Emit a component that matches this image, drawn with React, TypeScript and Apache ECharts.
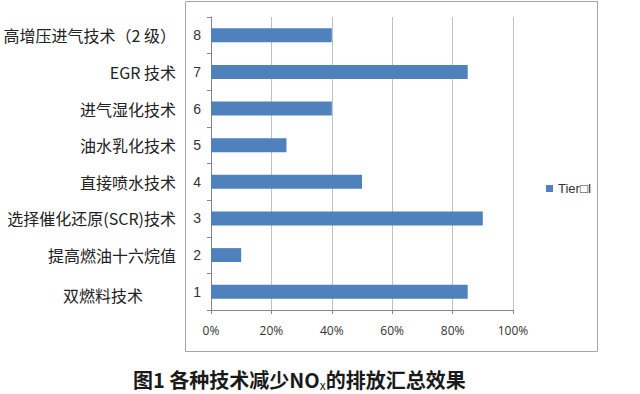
import React, { useEffect, useRef } from "react";
import * as echarts from "echarts";

const numLabels = ["1", "2", "3", "4", "5", "6", "7", "8"];
const techNames = [
  "双燃料技术",
  "提高燃油十六烷值",
  "选择催化还原(SCR)技术",
  "直接喷水技术",
  "油水乳化技术",
  "进气湿化技术",
  "EGR 技术",
  "高增压进气技术（2 级）",
];
const tierValues = [0.85, 0.1, 0.9, 0.5, 0.25, 0.4, 0.85, 0.4];
const seriesName = "Tier□I";
const xTicks = { min: 0, max: 1, interval: 0.2 };

export default function App() {
  const ref = useRef<HTMLDivElement>(null);
  useEffect(() => {
    document.body.style.margin = "0";
    const chart = echarts.init(ref.current!, null, { renderer: "svg" });
    chart.setOption({
      animation: false,
      backgroundColor: "#ffffff",
      grid: { left: 211, right: 127, top: 17, bottom: 84, containLabel: false },
      title: {
        text: "图1 各种技术减少NO{sub|x}的排放汇总效果",
        left: 128,
        top: 364,
        textStyle: {
          fontFamily: "Noto Sans CJK SC",
          fontWeight: "bold",
          fontSize: 20,
          color: "#1a1a1a",
          rich: {
            sub: {
              fontFamily: "Noto Sans CJK SC",
              fontSize: 12,
              fontWeight: "normal",
              color: "#1a1a1a",
              verticalAlign: "bottom",
              padding: [9, 0, 0, 0],
            },
          },
        },
      },
      legend: {
        left: 541,
        top: 177,
        icon: "rect",
        itemWidth: 7,
        itemHeight: 7,
        itemGap: 4,
        textStyle: { fontFamily: "Liberation Sans", fontSize: 13, color: "#333" },
        data: [seriesName],
      },
      xAxis: {
        type: "value",
        min: xTicks.min,
        max: xTicks.max,
        interval: xTicks.interval,
        axisLine: { show: true, lineStyle: { color: "#868686" } },
        axisTick: { show: true, length: 4, lineStyle: { color: "#868686" } },
        splitLine: { show: true, lineStyle: { color: "#c0c0c0", width: 1 } },
        axisLabel: {
          margin: 14,
          fontFamily: "Open Sans",
          fontSize: 12,
          color: "#333",
          formatter: (v: number) => Math.round(v * 100) + "%",
        },
      },
      yAxis: [
        {
          type: "category",
          data: numLabels,
          position: "left",
          axisLine: { show: true, lineStyle: { color: "#868686" } },
          axisTick: { show: true, length: 4, lineStyle: { color: "#868686" } },
          axisLabel: {
            margin: 10,
            fontFamily: "Liberation Sans",
            fontSize: 14,
            color: "#333",
          },
        },
        {
          type: "category",
          data: techNames,
          position: "left",
          axisLine: { show: false },
          axisTick: { show: false },
          splitLine: { show: false },
          axisLabel: {
            margin: 35,
            fontFamily: "Noto Sans CJK SC",
            fontSize: 16,
            color: "#222",
            formatter: (v: string) =>
              v === "双燃料技术" ? "{b|" + v + "}" : "{a|" + v + "}",
            rich: {
              a: { fontFamily: "Noto Sans CJK SC", fontSize: 16, color: "#222" },
              b: {
                fontFamily: "Noto Sans CJK SC",
                fontSize: 16,
                color: "#222",
                padding: [6, 33, 0, 0],
              },
            },
          },
        },
      ],
      series: [
        {
          name: seriesName,
          type: "bar",
          yAxisIndex: 0,
          data: tierValues,
          barWidth: "38%",
          itemStyle: { color: "#4F81BD" },
        },
      ],
      graphic: [
        {
          type: "rect",
          shape: { x: 185.5, y: 1.5, width: 412, height: 350 },
          style: { fill: "none", stroke: "#a6a6a6", lineWidth: 1 },
          silent: true,
        },
      ],
    });
    return () => chart.dispose();
  }, []);
  return (
    <div
      ref={ref}
      style={{ position: "absolute", left: 0, top: 0, width: 640, height: 394 }}
    />
  );
}
